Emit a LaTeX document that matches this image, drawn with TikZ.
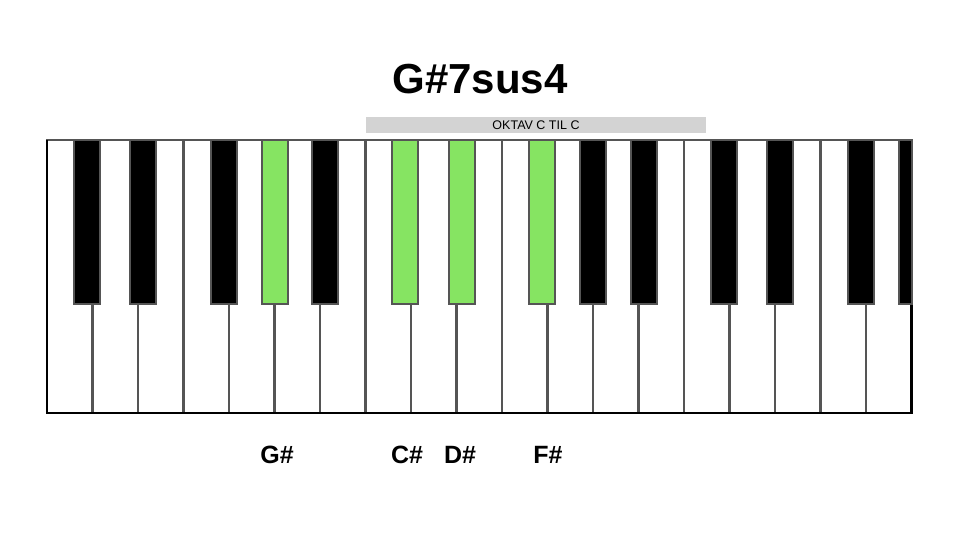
\documentclass[tikz,border=0pt]{standalone}
\usepackage{fontspec}
\setmainfont{Liberation Sans}
\definecolor{keygreen}{RGB}{134,228,98}
\definecolor{keyedge}{RGB}{85,85,85}
\definecolor{bargray}{RGB}{211,211,211}
\begin{document}
\begin{tikzpicture}[x=1pt, y=-1pt,
    whitekey/.style={fill=white, draw=keyedge, line width=2.5pt},
    blackkey/.style={fill=black, draw=keyedge, line width=2pt},
    chordkey/.style={fill=keygreen, draw=keyedge, line width=2pt},
    notename/.style={font=\bfseries\fontsize{25}{25}\selectfont}]
    \useasboundingbox (0,0) rectangle (960,540);
    % title and octave bar
    \node[font=\bfseries\fontsize{42}{42}\selectfont] (title) at (480,79) {G\#7sus4};
    \fill[bargray] (366,117) rectangle (706,133);
    \node[font=\fontsize{12.5}{12.5}\selectfont] (octave) at (536,125.5) {OKTAV C TIL C};
    % white keys
    \foreach \i in {0,...,18}
        \draw[whitekey] ({47+45.5*\i},140) rectangle ({92.5+45.5*\i},413);
    \draw[line width=2.5pt, line join=miter] (47,140) -- (47,413) -- (911.5,413) -- (911.5,140);
    % black keys (boundary/offset)
    \foreach \b/\o in {1/-6, 2/5, 4/-5.5, 6/5, 12/0, 13/5, 15/-6, 16/5, 18/-5.5}
        \draw[blackkey] ({47+45.5*\b+\o-13},140) rectangle ({47+45.5*\b+\o+13},304);
    \draw[blackkey] (898.5,140) rectangle (911.5,304);
    % chord keys
    \foreach \b/\o in {5/0, 8/-6, 9/5, 11/-5.5}
        \draw[chordkey] ({47+45.5*\b+\o-13},140) rectangle ({47+45.5*\b+\o+13},304);
    % note names
    \node[notename] (gsharp) at (277,455) {G\#};
    \node[notename] (csharp) at (407,455) {C\#};
    \node[notename] (dsharp) at (460,455) {D\#};
    \node[notename] (fsharp) at (548,455) {F\#};
\end{tikzpicture}
\end{document}
